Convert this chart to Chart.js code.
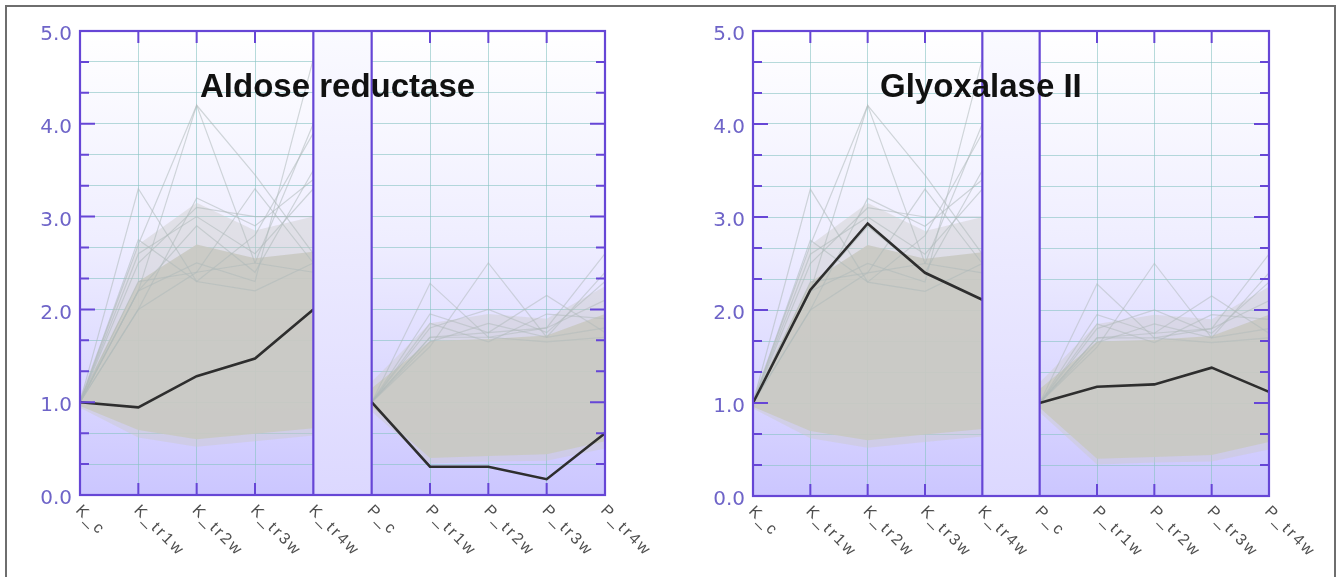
<!DOCTYPE html>
<html><head><meta charset="utf-8">
<script src="https://cdn.jsdelivr.net/npm/chart.js@4.4.0/dist/chart.umd.min.js"></script>
<style>
html,body{margin:0;padding:0;background:#fff;width:1337px;height:577px;overflow:hidden;}
#frame{position:absolute;left:5px;top:5px;width:1327px;height:600px;border:2px solid #6e6e6e;pointer-events:none;}
.wrap{position:absolute;top:0;}
</style></head><body>
<div class="wrap" style="left:0"><canvas id="c1" width="668" height="577"></canvas></div>
<div class="wrap" style="left:668px"><canvas id="c2" width="669" height="577"></canvas></div>
<div id="frame"></div>
<script>
// ---------- data ----------
const categories = ['K_c','K_tr1w','K_tr2w','K_tr3w','K_tr4w','P_c','P_tr1w','P_tr2w','P_tr3w','P_tr4w'];
const yTickLabels = ['0.0','1.0','2.0','3.0','4.0','5.0'];
const titles = ['Aldose reductase','Glyoxalase II'];

const aldoseK = [1.0, 0.945, 1.28, 1.47, 2.0];
const aldoseP = [1.0, 0.305, 0.305, 0.17, 0.665];
const glyoxK  = [1.0, 2.215, 2.93, 2.40, 2.11];
const glyoxP  = [1.0, 1.175, 1.20, 1.38, 1.12];

// envelope of the dense cloud of all other profiles
const bandUpperK  = [1.04, 2.30, 2.70, 2.55, 2.62];
const bandLowerK  = [0.96, 0.70, 0.60, 0.66, 0.72];
const lightUpperK = [1.06, 2.70, 3.15, 2.85, 3.00];
const lightLowerK = [0.94, 0.62, 0.52, 0.58, 0.64];
const bandUpperP  = [1.15, 1.66, 1.68, 1.72, 1.95];
const bandLowerP  = [0.95, 0.40, 0.42, 0.44, 0.58];
const lightUpperP = [1.22, 1.85, 1.95, 1.90, 2.25];
const lightLowerP = [0.90, 0.34, 0.36, 0.37, 0.50];

// individual outlying profiles
const kOutliers = [
  [1.0, 2.70, 4.20, 3.45, 2.60],
  [1.0, 3.30, 2.30, 2.20, 2.50],
  [1.0, 2.00, 2.40, 3.30, 2.50],
  [1.0, 2.20, 2.50, 2.30, 4.70],
  [1.0, 2.30, 2.40, 2.50, 4.00],
  [1.0, 2.20, 4.20, 2.50, 2.40],
  [1.0, 2.00, 3.20, 2.90, 3.40],
  [1.0, 2.60, 3.00, 2.60, 3.30],
  [1.0, 2.50, 3.10, 3.00, 3.00],
  [1.0, 2.75, 2.30, 2.80, 3.90],
  [1.0, 2.20, 2.90, 2.40, 3.50]
];
const pOutliers = [
  [1.0, 2.28, 1.70, 1.65, 1.70],
  [1.0, 1.60, 2.50, 1.70, 1.80],
  [1.0, 1.70, 1.75, 2.15, 1.75],
  [1.0, 1.70, 1.70, 1.80, 2.60],
  [1.0, 1.95, 1.75, 1.80, 2.10],
  [1.0, 1.80, 2.00, 1.75, 2.30],
  [1.0, 1.85, 1.65, 1.95, 1.90],
  [1.0, 1.65, 1.85, 1.70, 2.40]
];

// ---------- styling ----------
const FRAME = '#6646d6';
const pad5 = [null, null, null, null, null];
const kSeg = a => a.concat(pad5);
const pSeg = a => pad5.concat(a);

function envelope(up, lo, seg, color, order) {
  return [
    {data: seg(up), fill: '+1', backgroundColor: color, borderColor: 'rgba(0,0,0,0)', borderWidth: 0, order},
    {data: seg(lo), fill: false, borderColor: 'rgba(0,0,0,0)', borderWidth: 0, order}
  ];
}

function buildDatasets(mainK, mainP) {
  let ds = [];
  ds = ds.concat(envelope(lightUpperK, lightLowerK, kSeg, 'rgba(202,202,198,0.42)', 6));
  ds = ds.concat(envelope(lightUpperP, lightLowerP, pSeg, 'rgba(202,202,198,0.42)', 6));
  ds = ds.concat(envelope(bandUpperK, bandLowerK, kSeg, 'rgba(200,200,194,0.88)', 5));
  ds = ds.concat(envelope(bandUpperP, bandLowerP, pSeg, 'rgba(200,200,194,0.88)', 5));
  kOutliers.forEach(o => ds.push({data: kSeg(o), borderColor: 'rgba(175,185,185,0.55)', borderWidth: 1.2, fill: false, order: 3}));
  pOutliers.forEach(o => ds.push({data: pSeg(o), borderColor: 'rgba(175,185,185,0.50)', borderWidth: 1.2, fill: false, order: 3}));
  ds.push({data: kSeg(mainK), borderColor: '#2e2e2e', borderWidth: 2.6, fill: false, order: 0});
  ds.push({data: pSeg(mainP), borderColor: '#2e2e2e', borderWidth: 2.6, fill: false, order: 0});
  return ds;
}

function panelPlugin(title, titleDx) {
  return {
    id: 'panel',
    beforeDraw(chart) {
      const {ctx, chartArea: a} = chart;
      const g = ctx.createLinearGradient(0, a.top, 0, a.bottom);
      g.addColorStop(0, '#ffffff');
      g.addColorStop(0.45, '#efeeff');
      g.addColorStop(1, '#cbc6ff');
      ctx.save();
      ctx.fillStyle = g;
      ctx.fillRect(a.left, a.top, a.right - a.left, a.bottom - a.top);
      ctx.restore();
    },
    beforeDatasetsDraw(chart) {
      const {ctx, chartArea: a, scales: {x}} = chart;
      const x1 = x.getPixelForValue(4), x2 = x.getPixelForValue(5);
      const g = ctx.createLinearGradient(0, a.top, 0, a.bottom);
      g.addColorStop(0, '#fafaff');
      g.addColorStop(1, '#dcd8ff');
      ctx.save();
      ctx.fillStyle = g;
      ctx.fillRect(x1, a.top, x2 - x1, a.bottom - a.top);
      ctx.restore();
    },
    afterDraw(chart) {
      const {ctx, chartArea: a, scales: {x, y}} = chart;
      ctx.save();
      ctx.strokeStyle = FRAME;
      ctx.lineWidth = 2.2;
      ctx.strokeRect(a.left, a.top, a.right - a.left, a.bottom - a.top);
      [4, 5].forEach(i => {
        const px = x.getPixelForValue(i);
        ctx.beginPath(); ctx.moveTo(px, a.top); ctx.lineTo(px, a.bottom); ctx.stroke();
      });
      // inward y ticks every 1/3
      ctx.lineWidth = 2;
      for (let i = 1; i < 15; i++) {
        const py = y.getPixelForValue(i / 3);
        const len = (i % 3 === 0) ? 15 : 9;
        ctx.beginPath();
        ctx.moveTo(a.left, py); ctx.lineTo(a.left + len, py);
        ctx.moveTo(a.right, py); ctx.lineTo(a.right - len, py);
        ctx.stroke();
      }
      // inward x ticks
      [1, 2, 3, 6, 7, 8].forEach(i => {
        const px = x.getPixelForValue(i);
        ctx.beginPath();
        ctx.moveTo(px, a.top); ctx.lineTo(px, a.top + 12);
        ctx.moveTo(px, a.bottom); ctx.lineTo(px, a.bottom - 12);
        ctx.stroke();
      });
      // rotated category labels
      ctx.fillStyle = '#4e4e4e';
      ctx.font = '16px "Liberation Sans", Arial, sans-serif';
      try { ctx.letterSpacing = '2.5px'; } catch (e) {}
      ctx.textAlign = 'left';
      ctx.textBaseline = 'middle';
      categories.forEach((c, i) => {
        const px = x.getPixelForValue(i);
        ctx.save();
        ctx.translate(px - 2, a.bottom + 13);
        ctx.rotate(Math.PI / 4);
        ctx.fillText(c, 0, 0);
        ctx.restore();
      });
      try { ctx.letterSpacing = '0px'; } catch (e) {}
      // title
      ctx.fillStyle = '#111';
      ctx.font = 'bold 33px "Liberation Sans", Arial, sans-serif';
      ctx.textAlign = 'left';
      ctx.textBaseline = 'alphabetic';
      ctx.fillText(title, a.left + titleDx, 97);
      ctx.restore();
    }
  };
}

function makeChart(id, mainK, mainP, title, titleDx, yWidth, padRight, xHeight) {
  return new Chart(document.getElementById(id), {
    type: 'line',
    data: {labels: categories, datasets: buildDatasets(mainK, mainP)},
    options: {
      responsive: false,
      animation: false,
      events: [],
      devicePixelRatio: 1,
      spanGaps: false,
      elements: {point: {radius: 0}, line: {tension: 0}},
      layout: {padding: {left: 0, right: padRight, top: 31, bottom: 0}},
      plugins: {legend: {display: false}, tooltip: {enabled: false}, title: {display: false}},
      scales: {
        x: {
          type: 'category',
          offset: false,
          border: {display: false},
          grid: {color: 'rgba(135,195,195,0.6)', lineWidth: 1, drawTicks: false},
          ticks: {display: false},
          afterFit(s) { s.height = xHeight; }
        },
        y: {
          min: 0, max: 5,
          border: {display: false},
          grid: {color: 'rgba(135,195,195,0.6)', lineWidth: 1, drawTicks: false},
          ticks: {
            stepSize: 1 / 3,
            autoSkip: false,
            padding: 8,
            labelOffset: 4,
            color: '#6e64c8',
            font: {family: '"DejaVu Sans", sans-serif', size: 20},
            callback: v => Math.abs(v - Math.round(v)) < 1e-6 ? yTickLabels[Math.round(v)] : ''
          },
          afterFit(s) { s.width = yWidth; }
        }
      }
    },
    plugins: [panelPlugin(title, titleDx)]
  });
}

makeChart('c1', aldoseK, aldoseP, titles[0], 120, 80, 63, 82);
makeChart('c2', glyoxK, glyoxP, titles[1], 127, 85, 68, 81);
</script>
</body></html>
